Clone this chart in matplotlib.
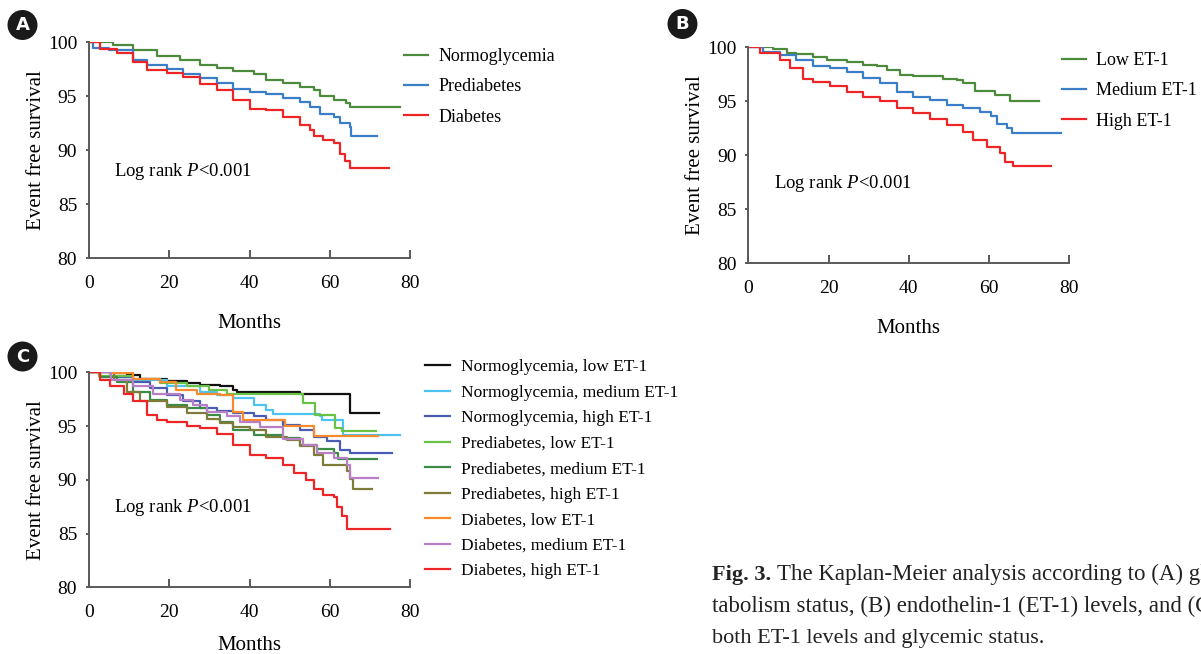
import matplotlib
matplotlib.use("Agg")
import matplotlib.pyplot as plt
from matplotlib.patches import Ellipse

plt.rcParams['font.family'] = ['Liberation Serif', 'DejaVu Serif']
plt.rcParams['mathtext.fontset'] = 'custom'
plt.rcParams['mathtext.rm'] = 'Liberation Serif'
plt.rcParams['mathtext.it'] = 'Liberation Serif:italic'

# ---- data (months, event free survival %) ----
# Panel A: glycemic status
normo_t = [0, 6, 11, 17, 22.7, 27.7, 31.8, 36, 41, 44, 48.4, 52.6, 56, 57.5, 61, 64, 65, 77.5]
normo_s = [100, 99.75, 99.3, 98.7, 98.4, 97.9, 97.6, 97.3, 97.1, 96.5, 96.2, 95.9, 95.6, 95.0, 94.7, 94.4, 94.0, 94.0]
pre_t = [0, 1, 5, 11, 14.4, 19.4, 23.5, 27.7, 31.8, 36, 40, 44, 48.4, 52.6, 55, 57.5, 61, 62.5, 65, 65.4, 71.7]
pre_s = [100, 99.5, 99.3, 98.4, 97.9, 97.5, 97.1, 96.7, 96.2, 95.7, 95.4, 95.2, 94.8, 94.5, 94.0, 93.4, 93.1, 92.5, 92.2, 91.3, 91.3]
dia_t = [0, 2.7, 6.9, 11, 14.4, 19.4, 23.5, 27.7, 31.8, 36, 40, 44, 48.4, 52.6, 55, 56, 58.4, 61, 62.5, 63.8, 65, 74.8]
dia_s = [100, 99.4, 99.0, 98.2, 97.4, 97.2, 96.8, 96.1, 95.6, 94.7, 93.8, 93.7, 93.1, 92.3, 91.9, 91.3, 91.0, 90.7, 89.7, 89.0, 88.4, 88.4]

# Panel B: ET-1 levels
low_t = [0, 6.2, 9.6, 12, 16.2, 19.5, 24.5, 28.7, 32, 34.5, 37.8, 41, 48.6, 51.9, 53.6, 56.5, 61.5, 65.2, 72.5]
low_s = [100, 99.8, 99.5, 99.35, 99.1, 98.8, 98.6, 98.4, 98.3, 97.9, 97.4, 97.3, 97.1, 97.0, 96.7, 96.0, 95.6, 95.0, 95.0]
med_t = [0, 3.7, 7.9, 12, 16.2, 20.3, 24.5, 28.7, 32.8, 37, 41, 45.3, 49.4, 53.6, 57.7, 60.6, 61.9, 64.4, 65.6, 78]
med_s = [100, 99.6, 99.3, 98.8, 98.3, 98.1, 97.7, 97.2, 96.7, 95.9, 95.4, 95.1, 94.7, 94.4, 94.0, 93.6, 92.9, 92.5, 92.1, 92.1]
high_t = [0, 2.9, 7.9, 10.4, 13.7, 16.2, 20.3, 24.5, 28.7, 32.8, 37, 41, 45.3, 49.4, 53.6, 56, 59.4, 62.7, 64, 66, 75.4]
high_s = [100, 99.5, 98.8, 98.1, 97.1, 96.8, 96.4, 95.9, 95.4, 95.0, 94.4, 93.9, 93.4, 92.8, 92.2, 91.4, 90.8, 90.2, 89.4, 89.0, 89.0]

# Panel C: glycemic status x ET-1
c_labels = ['Normoglycemia, low ET-1', 'Normoglycemia, medium ET-1', 'Normoglycemia, high ET-1',
            'Prediabetes, low ET-1', 'Prediabetes, medium ET-1', 'Prediabetes, high ET-1',
            'Diabetes, low ET-1', 'Diabetes, medium ET-1', 'Diabetes, high ET-1']
c_times = [
    [0, 6, 9.4, 12.7, 19.4, 24.3, 27.7, 32.6, 36, 36.8, 52.6, 65, 72.3],
    [0, 5.2, 11, 19.4, 27.7, 31.8, 36, 41, 44, 45.9, 57.5, 58, 63.4, 77.5],
    [0, 2.7, 11, 15.2, 19.4, 23.5, 27.7, 31.8, 36, 41, 44, 48.4, 52.6, 56, 59.2, 62.5, 65, 75.4],
    [0, 2.5, 11, 17.7, 24.3, 30, 34.3, 53.4, 56.3, 61.3, 63, 71.5],
    [0, 2.7, 6.9, 11, 15.2, 19.4, 24.3, 29.3, 32.6, 36, 41, 48.4, 52.6, 56.7, 61, 62.1, 71.7],
    [0, 6.2, 9.4, 12.7, 19.4, 24.3, 29.3, 32.6, 36, 40, 44, 49.3, 52.6, 56, 58.4, 64.2, 65, 65.9, 70.6],
    [0, 5.2, 11, 17.7, 21.8, 26.8, 32.6, 36, 38.5, 48.8, 56, 72],
    [0, 5.4, 11, 16, 22.7, 26, 29.3, 34.3, 37.6, 42.6, 48.4, 53.4, 56.7, 61, 64.2, 65, 72],
    [0, 2.7, 5.2, 8.6, 11, 14.4, 16.9, 19.4, 24.3, 27.7, 31.8, 36, 40, 44, 48.4, 51, 54.2, 56, 58.4, 61, 61.7, 63, 64.2, 75],
]
c_surv = [
    [100, 99.9, 99.75, 99.35, 99.2, 99.0, 98.8, 98.7, 98.4, 98.2, 98.0, 96.2, 96.2],
    [100, 99.6, 99.3, 98.7, 98.2, 97.9, 97.6, 97.0, 96.5, 96.1, 95.9, 95.6, 94.2, 94.2],
    [100, 99.6, 99.1, 98.5, 97.9, 97.3, 96.7, 96.4, 96.2, 95.9, 95.6, 95.1, 94.6, 94.0, 93.6, 92.8, 92.5, 92.5],
    [100, 99.7, 99.35, 99.0, 98.7, 98.4, 98.0, 97.1, 96.0, 94.8, 94.5, 94.5],
    [100, 99.6, 99.1, 98.2, 97.4, 97.0, 96.7, 96.0, 95.4, 94.6, 94.2, 93.9, 93.2, 92.9, 92.5, 91.9, 91.9],
    [100, 99.3, 98.2, 97.3, 96.8, 96.2, 95.7, 95.3, 94.9, 94.6, 94.0, 93.7, 93.1, 92.3, 91.4, 90.8, 90.1, 89.1, 89.1],
    [100, 99.9, 99.4, 99.1, 98.4, 98.0, 97.9, 96.3, 95.6, 95.0, 94.1, 94.1],
    [100, 99.3, 98.7, 98.0, 97.4, 97.0, 96.3, 95.9, 95.4, 94.9, 93.8, 93.2, 92.5, 92.0, 91.4, 90.2, 90.2],
    [100, 99.3, 98.7, 98.0, 97.3, 96.0, 95.6, 95.4, 95.0, 94.8, 94.3, 93.2, 92.3, 92.0, 91.4, 90.6, 90.0, 89.1, 88.6, 88.4, 87.5, 86.6, 85.4, 85.4],
]
c_colors = ['#111111', '#4cc3f1', '#4a5cb3', '#6ac244', '#3b8a46', '#7f7c3a', '#f8892d', '#b87fc6', '#ee2526']

W, H = 1201, 654
fig = plt.figure(figsize=(W / 100, H / 100), dpi=100)

GRAY = '#5a5a5a'


def make_axes(x0, x1, y100, y80, xpad=16):
    ax = fig.add_axes([x0 / W, 1 - y80 / H, (x1 - x0) / W, (y80 - y100) / H])
    ax.set_xlim(0, 80)
    ax.set_ylim(80, 100)
    ax.set_xticks([0, 20, 40, 60, 80])
    ax.set_yticks([80, 85, 90, 95, 100])
    for side in ['top', 'right']:
        ax.spines[side].set_visible(False)
    for side in ['left', 'bottom']:
        ax.spines[side].set_color(GRAY)
        ax.spines[side].set_linewidth(1.4)
    ax.tick_params(axis='x', direction='in', length=5.5, width=1.4, color=GRAY, pad=12, labelsize=14)
    ax.tick_params(axis='y', direction='out', length=2.5, width=1.4, color=GRAY, pad=6, labelsize=14)
    ax.set_xlabel('Months', fontsize=15, labelpad=xpad)
    ax.set_ylabel('Event free survival', fontsize=15, labelpad=1.5)
    ax.patch.set_alpha(0)
    return ax


def badge(cx, cy, letter):
    fig.patches.append(Ellipse((cx / W, 1 - cy / H), 30 / W, 30 / H, transform=fig.transFigure,
                               facecolor='#1a1a1a', edgecolor='none'))
    fig.text(cx / W, 1 - cy / H, letter, ha='center', va='center', color='white',
             fontsize=13, fontweight='bold', family='DejaVu Sans')


# Panel A
axA = make_axes(89, 410, 42.3, 258.3)
for t, s, c, lab in [(normo_t, normo_s, '#4b8b3b', 'Normoglycemia'),
                     (pre_t, pre_s, '#3b7ec8', 'Prediabetes'),
                     (dia_t, dia_s, '#ee2526', 'Diabetes')]:
    axA.step(t, s, where='post', color=c, lw=1.6, label=lab)
axA.text(6.2, 88.0, 'Log rank $\\mathit{P}$<0.001', fontsize=13.5, va='center')
axA.legend(loc='upper left', bbox_to_anchor=(404 / W, 1 - 48 / H), bbox_transform=fig.transFigure,
           frameon=False, fontsize=13, handlelength=1.35, handletextpad=0.55,
           labelspacing=0.74, borderpad=0, borderaxespad=0)
badge(22.5, 25, 'A')

# Panel B
axB = make_axes(748.3, 1069.3, 47.3, 263.3)
for t, s, c, lab in [(low_t, low_s, '#4b8b3b', 'Low ET-1'),
                     (med_t, med_s, '#3b7ec8', 'Medium ET-1'),
                     (high_t, high_s, '#ee2526', 'High ET-1')]:
    axB.step(t, s, where='post', color=c, lw=1.6, label=lab)
axB.text(6.4, 87.4, 'Log rank $\\mathit{P}$<0.001', fontsize=13.5, va='center')
axB.legend(loc='upper left', bbox_to_anchor=(1062 / W, 1 - 52 / H), bbox_transform=fig.transFigure,
           frameon=False, fontsize=13, handlelength=1.35, handletextpad=0.55,
           labelspacing=0.74, borderpad=0, borderaxespad=0)
badge(682.5, 24, 'B')

# Panel C
axC = make_axes(89, 410, 372.3, 587.3, xpad=11)
for t, s, c, lab in zip(c_times, c_surv, c_colors, c_labels):
    axC.step(t, s, where='post', color=c, lw=1.6, label=lab)
axC.text(6.2, 87.4, 'Log rank $\\mathit{P}$<0.001', fontsize=13.5, va='center')
axC.legend(loc='upper left', bbox_to_anchor=(425 / W, 1 - 359 / H), bbox_transform=fig.transFigure,
           frameon=False, fontsize=12.5, handlelength=1.45, handletextpad=0.6,
           labelspacing=0.54, borderpad=0, borderaxespad=0)
badge(22.5, 356.5, 'C')

# Caption (runs off the right edge as in the page crop)
cap_x = 712 / W
fig_lbl = fig.text(cap_x, 1 - 580 / H, 'Fig. 3.', fontsize=16, fontweight='bold', va='baseline', color='#222222')
plt.annotate('The Kaplan-Meier analysis according to (A) glucose me-', xy=(1, 0), xycoords=fig_lbl,
             xytext=(4, 0), textcoords='offset points', fontsize=16.5, va='bottom', color='#222222',
             annotation_clip=False)
fig.text(cap_x, 1 - 612 / H, 'tabolism status, (B) endothelin-1 (ET-1) levels, and (C) according to',
         fontsize=16.5, va='baseline', color='#222222')
fig.text(cap_x, 1 - 643 / H, 'both ET-1 levels and glycemic status.', fontsize=16, va='baseline', color='#222222')

fig.savefig('out.png', dpi=100)
